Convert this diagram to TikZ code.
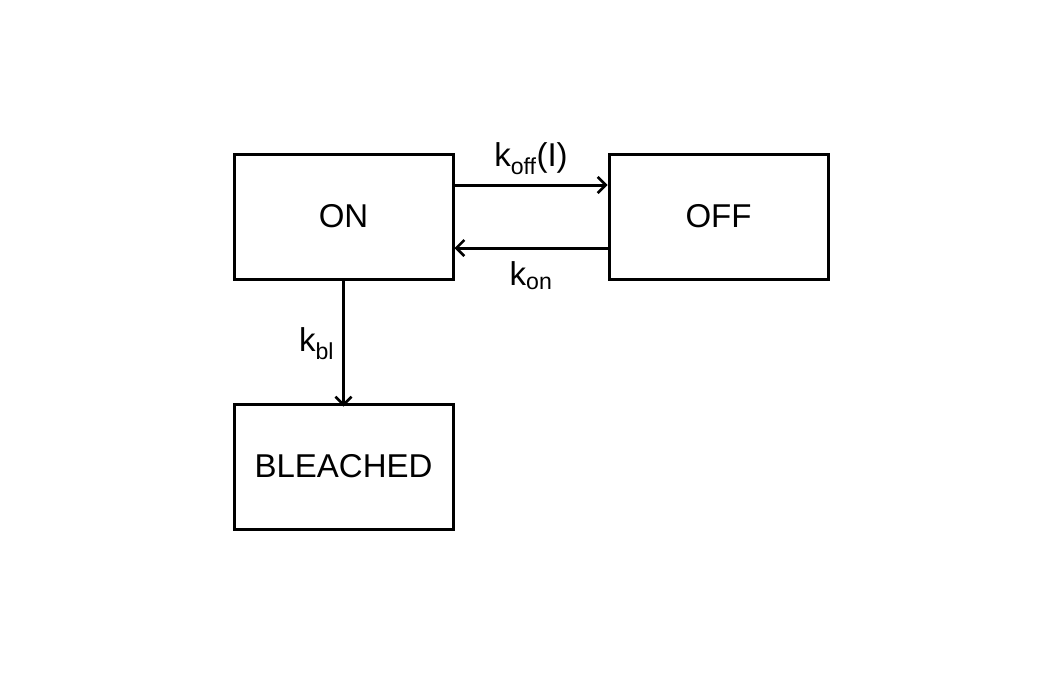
\documentclass[tikz,border=0pt]{standalone}
\usepackage{fontspec}
\setmainfont{Liberation Sans}
\usetikzlibrary{arrows.meta}
\begin{document}
\begin{tikzpicture}[x=1pt,y=-1pt,
  box/.style={draw,line width=3pt,minimum width=219pt,minimum height=125pt,inner sep=0pt,font=\fontsize{33}{40}\selectfont},
  arr/.style={line width=3pt,-{Straight Barb[length=8pt,width=16pt,line width=2.6pt]}},
  lbl/.style={font=\fontsize{33}{40}\selectfont,inner sep=2pt}]
\useasboundingbox (0,0) rectangle (1063,673);
\node[box] (on) at (343.5,216.5) {ON};
\node[box] (off) at (718.5,216.5) {OFF};
\node[box] (bl) at (343.5,466.5) {BLEACHED};
\draw[arr] ([yshift=31.5pt]on.east) -- node[lbl,midway,above=7pt] {k\textsubscript{off}(I)} ([yshift=31.5pt]off.west);
\draw[arr] ([yshift=-31.5pt]off.west) -- node[lbl,midway,below=10pt] {k\textsubscript{on}} ([yshift=-31.5pt]on.east);
\draw[arr] (on.south) -- node[lbl,midway,left=6pt] {k\textsubscript{bl}} ([yshift=-4pt]bl.north);
\end{tikzpicture}
\end{document}
